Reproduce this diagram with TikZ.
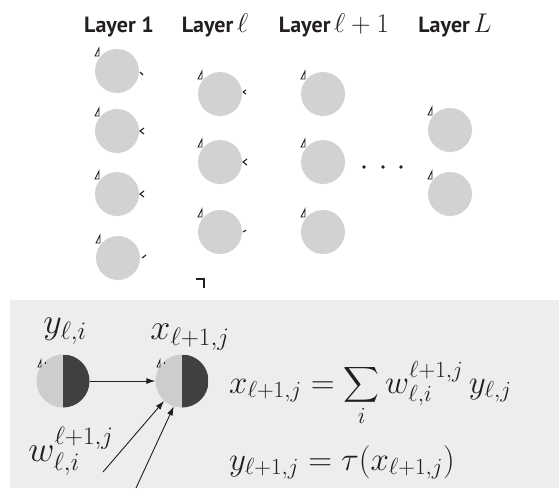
\RequirePackage{fix-cm}
\documentclass[tikz,border=0pt]{standalone}
\usepackage{exscale}
\usepackage{fontspec}
\newfontfamily\titlefont{PT Sans}
\usetikzlibrary{arrows.meta}
\definecolor{cgray}{HTML}{D1D2D4}
\definecolor{panel}{HTML}{EDEDED}
\definecolor{dhalf}{HTML}{404040}
\definecolor{lhalf}{HTML}{CDCDCD}
\definecolor{ink}{HTML}{231F20}
\newcommand\tm[1]{{\fontsize{27}{30}\selectfont$#1$}}
\begin{document}
\begin{tikzpicture}[x=1pt,y=-1pt,
  neuron/.style={circle,fill=cgray,minimum size=44pt,inner sep=0pt},
  halfneuron/.style={circle,fill=lhalf,minimum size=53pt,inner sep=0pt,
    path picture={\fill[dhalf] (path picture bounding box.north) rectangle (path picture bounding box.south east);}},
  title/.style={font=\titlefont\bfseries\fontsize{22}{26}\selectfont,text=ink,anchor=base},
  mathlbl/.style={font=\fontsize{36}{40}\selectfont,text=ink,inner sep=0pt},
  eqn/.style={font=\fontsize{33}{38}\selectfont,text=ink,inner sep=0pt,anchor=base west},
  conn/.style={-{Latex[length=9pt,width=6pt]},line width=0.9pt,ink},
  marker/.style={line width=1.1pt,ink},
]
\useasboundingbox (0,0) rectangle (559,488);
% titles
\node[title] (t1) at (119,32) {Layer 1};
\node[title] (t2) at (215,32) {Layer\,\tm{\ell}};
\node[title] (t3) at (334,32) {Layer\,\tm{\ell+1}};
\node[title] (t4) at (455,32) {Layer\,\tm{L}};
% neurons
\node[neuron] (a1) at (117,71) {};
\node[neuron] (a2) at (117,131) {};
\node[neuron] (a3) at (117,194) {};
\node[neuron] (a4) at (118,258) {};
\node[neuron] (b1) at (220,94) {};
\node[neuron] (b2) at (220,162) {};
\node[neuron] (b3) at (220,232) {};
\node[neuron] (c1) at (323,94) {};
\node[neuron] (c2) at (323,162) {};
\node[neuron] (c3) at (323,232) {};
\node[neuron] (d1) at (450,130) {};
\node[neuron] (d2) at (450,194) {};
% small triangle marks
\foreach \n in {a1,a2,a3,a4,b1,b2,b3,c1,c2,c3,d1,d2}{
  \draw[marker,line width=0.9pt,fill=white] ([shift={(-18,-15)}]\n.center) -- ++(0,-8) -- ++(-4,8) -- cycle;
}
% arrow fragments
\draw[marker] ([shift={(23,1)}]a1.center) -- ++(3,3);
\draw[marker] ([shift={(27,-3)}]a2.center) -- ++(-4,3) -- ++(4,3);
\draw[marker] ([shift={(27,-3)}]a3.center) -- ++(-4,3) -- ++(4,3);
\draw[marker] ([shift={(24,0)}]a4.center) -- ++(4,-3);
\draw[marker] ([shift={(23,-2)}]b1.center) -- ++(3,-2) ([shift={(23,-2)}]b1.center) -- ++(3,2);
\draw[marker] ([shift={(27,-3)}]b2.center) -- ++(-4,3) -- ++(4,3);
\draw[marker] ([shift={(23,0)}]b3.center) -- ++(3,-2);
\draw[line width=2.2pt,ink] (196,279) -- (204,279) -- (204,288);
% dots
\foreach \x in {364,383,401} \fill[ink] (\x,167) circle (1.8);
% bottom panel
\fill[panel] (10,300) rectangle (559,488);
\node[halfneuron] (p1) at (63,381) {};
\node[halfneuron] (p2) at (182,381) {};
\foreach \n in {p1,p2}{
  \draw[marker,line width=0.8pt,fill=white] ([shift={(-22,-14)}]\n.center) -- ++(0,-7) -- ++(-3,7) -- cycle;
  \draw[marker,line width=0.8pt] ([shift={(-18,-19)}]\n.center) -- ++(0,2);
}
\node[mathlbl] (ly) at (65,331) {$y_{\ell,i}$};
\node[mathlbl] (lx) at (190,337) {$x_{\ell+1,j}$};
\node[mathlbl] (lw) at (71,451) {$w^{\ell+1,j}_{\ell,i}$};
\coordinate (s1) at (103,472);
\coordinate (s2) at (136,488);
\draw[conn] (p1.east) -- (p2.west);
\draw[conn] (s1) -- (p2.228);
\draw[conn] (s2) -- (p2.252);
\node[eqn] (eq1) at (229,393) {$\displaystyle x_{\ell+1,j}=\sum_i w^{\ell+1,j}_{\ell,i}\,y_{\ell,j}$};
\node[eqn] (eq2) at (229,470) {$y_{\ell+1,j}=\tau(x_{\ell+1,j})$};
\end{tikzpicture}
\end{document}
